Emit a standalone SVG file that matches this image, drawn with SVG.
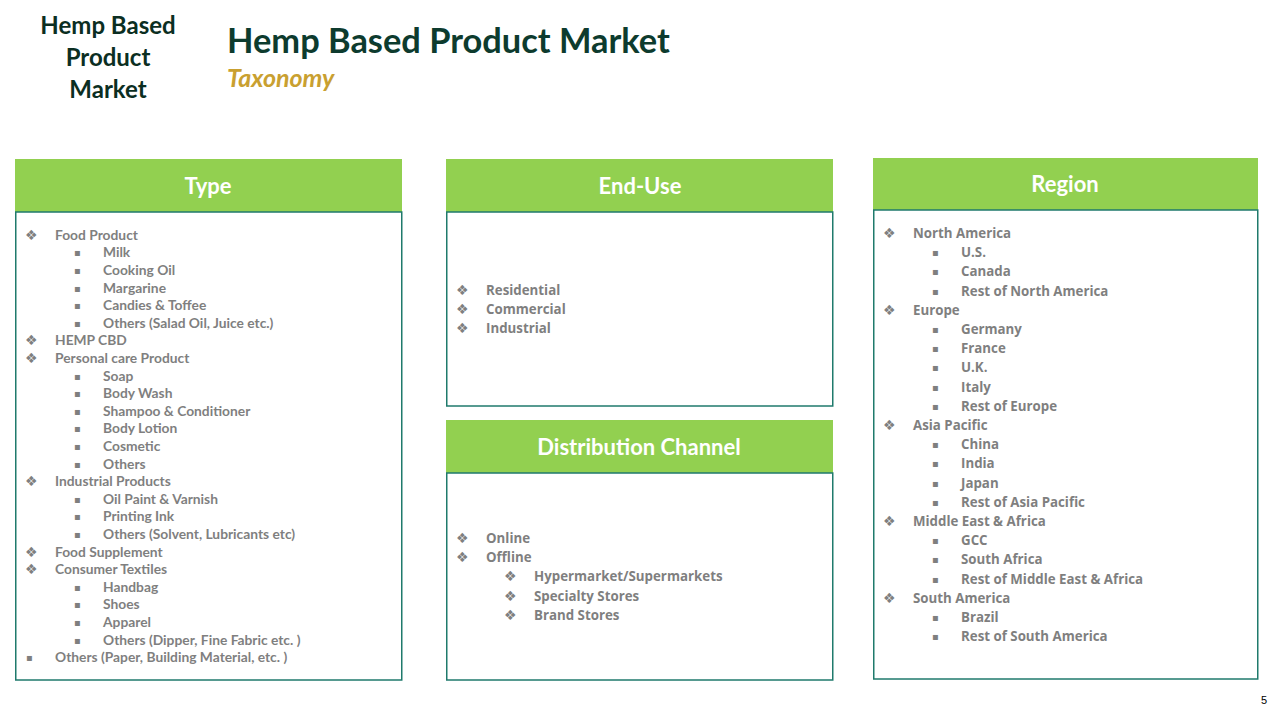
<svg xmlns="http://www.w3.org/2000/svg" width="1286" height="720" viewBox="0 0 1286 720">
<style>
.hdr{fill:#92d050}
.body{fill:#ffffff;stroke:#1f7a6c;stroke-width:1.5}
.ht{font-family:Lato,"Liberation Sans",sans-serif;font-weight:bold;font-size:22px;fill:#ffffff;text-anchor:middle}
.t1{font-family:Lato,"Liberation Sans",sans-serif;font-weight:bold;font-size:13.8px;fill:#7f7f7f}
.t2{font-family:"Open Sans","Liberation Sans",sans-serif;font-weight:bold;font-size:13.3px;fill:#7f7f7f}
.bd{font-family:"DejaVu Sans",sans-serif;font-size:14px;fill:#7f7f7f}
.bs{font-family:"DejaVu Sans",sans-serif;font-size:10px;fill:#7f7f7f}
</style>
<rect width="1286" height="720" fill="#ffffff"/>
<g id="logo" font-family="Lato,'Liberation Sans',sans-serif" font-weight="bold" font-size="24" fill="#0b2e22" text-anchor="middle">
<text x="108" y="34">Hemp Based</text>
<text x="108" y="66">Product</text>
<text x="108" y="98">Market</text>
</g>
<g id="title">
<text x="227" y="53" font-family="Lato,'Liberation Sans',sans-serif" font-weight="bold" font-size="34.4" fill="#0d3b2e">Hemp Based Product Market</text>
<text x="227" y="87" font-family="Lato,'Liberation Sans',sans-serif" font-weight="bold" font-style="italic" font-size="25" fill="#c9a030">Taxonomy</text>
</g>
<g id="connectors"></g>
<g id="type">
<rect class="hdr" x="15" y="159" width="387" height="53"/>
<rect class="body" x="15.75" y="212" width="386" height="468"/>
<text class="ht" x="208" y="194">Type</text>
<g class="t1">
<text x="55" y="240">Food Product</text>
<text x="103" y="257">Milk</text>
<text x="103" y="275">Cooking Oil</text>
<text x="103" y="293">Margarine</text>
<text x="103" y="310">Candies &amp; Toffee</text>
<text x="103" y="328">Others (Salad Oil, Juice etc.)</text>
<text x="55" y="345">HEMP CBD</text>
<text x="55" y="363">Personal care Product</text>
<text x="103" y="381">Soap</text>
<text x="103" y="398">Body Wash</text>
<text x="103" y="416">Shampoo &amp; Conditioner</text>
<text x="103" y="433">Body Lotion</text>
<text x="103" y="451">Cosmetic</text>
<text x="103" y="469">Others</text>
<text x="55" y="486">Industrial Products</text>
<text x="103" y="504">Oil Paint &amp; Varnish</text>
<text x="103" y="521">Printing Ink</text>
<text x="103" y="539">Others (Solvent,  Lubricants etc)</text>
<text x="55" y="557">Food Supplement</text>
<text x="55" y="574">Consumer Textiles</text>
<text x="103" y="592">Handbag</text>
<text x="103" y="609">Shoes</text>
<text x="103" y="627">Apparel</text>
<text x="103" y="645">Others (Dipper, Fine Fabric etc. )</text>
<text x="55" y="662">Others (Paper, Building Material, etc. )</text>
</g>
<g class="bd">
<text x="25" y="240">❖</text><text x="25" y="345">❖</text><text x="25" y="363">❖</text><text x="25" y="486">❖</text><text x="25" y="557">❖</text><text x="25" y="574">❖</text>
</g>
<g class="bs">
<text x="74" y="256">▪</text><text x="74" y="274">▪</text><text x="74" y="292">▪</text><text x="74" y="309">▪</text><text x="74" y="327">▪</text>
<text x="74" y="380">▪</text><text x="74" y="397">▪</text><text x="74" y="415">▪</text><text x="74" y="432">▪</text><text x="74" y="450">▪</text><text x="74" y="468">▪</text>
<text x="74" y="503">▪</text><text x="74" y="520">▪</text><text x="74" y="538">▪</text>
<text x="74" y="591">▪</text><text x="74" y="608">▪</text><text x="74" y="626">▪</text><text x="74" y="644">▪</text>
<text x="26" y="661">▪</text>
</g>
</g>
<g id="end-use">
<rect class="hdr" x="446" y="159" width="387" height="53"/>
<rect class="body" x="446.75" y="212" width="386" height="194"/>
<text class="ht" x="640" y="194">End-Use</text>
<g class="t2">
<text x="486" y="295">Residential</text>
<text x="486" y="314">Commercial</text>
<text x="486" y="333">Industrial</text>
</g>
<g class="bd">
<text x="456" y="295">❖</text><text x="456" y="314">❖</text><text x="456" y="333">❖</text>
</g>
</g>
<g id="distribution-channel">
<rect class="hdr" x="446" y="420" width="387" height="53"/>
<rect class="body" x="446.75" y="473" width="386" height="207"/>
<text class="ht" x="639" y="455">Distribution Channel</text>
<g class="t2">
<text x="486" y="543">Online</text>
<text x="486" y="562">Offline</text>
<text x="534" y="581">Hypermarket/Supermarkets</text>
<text x="534" y="601">Specialty Stores</text>
<text x="534" y="620">Brand Stores</text>
</g>
<g class="bd">
<text x="456" y="543">❖</text><text x="456" y="562">❖</text>
<text x="504" y="581">❖</text><text x="504" y="601">❖</text><text x="504" y="620">❖</text>
</g>
</g>
<g id="region">
<rect class="hdr" x="873" y="158" width="385" height="52"/>
<rect class="body" x="873.75" y="210" width="384" height="469"/>
<text class="ht" x="1065" y="192">Region</text>
<g class="t2">
<text x="913" y="238">North America</text>
<text x="961" y="257">U.S.</text>
<text x="961" y="276">Canada</text>
<text x="961" y="296">Rest of North America</text>
<text x="913" y="315">Europe</text>
<text x="961" y="334">Germany</text>
<text x="961" y="353">France</text>
<text x="961" y="372">U.K.</text>
<text x="961" y="392">Italy</text>
<text x="961" y="411">Rest of Europe</text>
<text x="913" y="430">Asia Pacific</text>
<text x="961" y="449">China</text>
<text x="961" y="468">India</text>
<text x="961" y="488">Japan</text>
<text x="961" y="507">Rest of Asia Pacific</text>
<text x="913" y="526">Middle East &amp; Africa</text>
<text x="961" y="545">GCC</text>
<text x="961" y="564">South Africa</text>
<text x="961" y="584">Rest of Middle East &amp; Africa</text>
<text x="913" y="603">South America</text>
<text x="961" y="622">Brazil</text>
<text x="961" y="641">Rest of South America</text>
</g>
<g class="bd">
<text x="883" y="238">❖</text><text x="883" y="315">❖</text><text x="883" y="430">❖</text><text x="883" y="526">❖</text><text x="883" y="603">❖</text>
</g>
<g class="bs">
<text x="932" y="256">▪</text><text x="932" y="275">▪</text><text x="932" y="295">▪</text>
<text x="932" y="333">▪</text><text x="932" y="352">▪</text><text x="932" y="371">▪</text><text x="932" y="391">▪</text><text x="932" y="410">▪</text>
<text x="932" y="448">▪</text><text x="932" y="467">▪</text><text x="932" y="487">▪</text><text x="932" y="506">▪</text>
<text x="932" y="544">▪</text><text x="932" y="563">▪</text><text x="932" y="583">▪</text>
<text x="932" y="621">▪</text><text x="932" y="640">▪</text>
</g>
</g>
<text x="1264" y="704" font-family="'Liberation Sans',sans-serif" font-size="11" fill="#000000" text-anchor="middle">5</text>
</svg>
